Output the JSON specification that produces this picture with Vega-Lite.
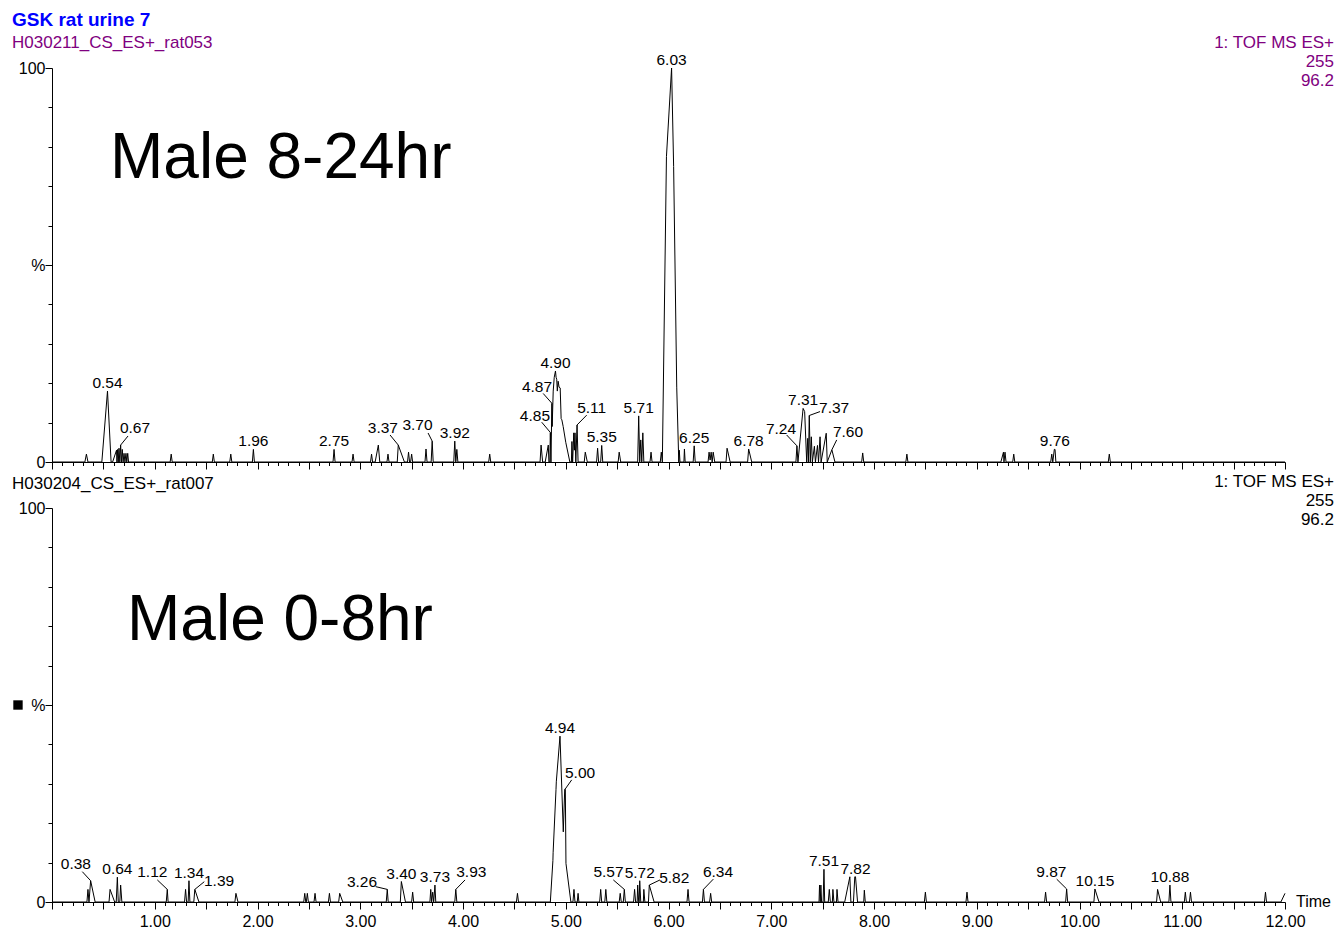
{
  "$schema": "https://vega.github.io/schema/vega-lite/v6.json",
  "background": "white",
  "padding": {"left": 12, "top": 11, "right": 4, "bottom": 4},
  "spacing": 46,
  "bounds": "flush",
  "config": {
    "view": {"stroke": null},
    "font": "Liberation Sans",
    "axis": {"grid": false, "domainColor": "black", "tickColor": "black", "labelColor": "black", "labelFont": "Liberation Sans", "labelFontSize": 16, "domainWidth": 1, "tickWidth": 1, "labelFlush": false, "labelOverlap": false, "labelBound": false},
    "text": {"font": "Liberation Sans", "color": "black"}
  },
  "datasets": {
    "trace_top": [
      {"time":0,"int":0},{"time":0.32,"int":0},{"time":0.335,"int":2},{"time":0.35,"int":0},{"time":0.485,"int":0},{"time":0.54,"int":18},{"time":0.575,"int":0},{"time":0.59,"int":0},{"time":0.628,"int":3},{"time":0.632,"int":0},{"time":0.639,"int":3.2},{"time":0.645,"int":0},{"time":0.652,"int":3.5},{"time":0.66,"int":0},{"time":0.668,"int":4.3},{"time":0.676,"int":0},{"time":0.684,"int":3.2},{"time":0.692,"int":0},{"time":0.701,"int":2.2},{"time":0.71,"int":0},{"time":0.72,"int":2.2},{"time":0.728,"int":0},{"time":0.737,"int":2.2},{"time":0.745,"int":0},
      {"time":1.15,"int":0},{"time":1.16,"int":2},{"time":1.17,"int":0},{"time":1.56,"int":0},{"time":1.57,"int":2},{"time":1.58,"int":0},{"time":1.73,"int":0},{"time":1.74,"int":2},{"time":1.75,"int":0},{"time":1.95,"int":0},{"time":1.96,"int":3.2},{"time":1.97,"int":0},{"time":2.735,"int":0},{"time":2.745,"int":3.2},{"time":2.755,"int":0},{"time":2.92,"int":0},{"time":2.93,"int":2},{"time":2.94,"int":0},{"time":3.1,"int":0},{"time":3.11,"int":2},{"time":3.12,"int":0},{"time":3.145,"int":0},{"time":3.176,"int":4.3},{"time":3.19,"int":0},{"time":3.26,"int":0},{"time":3.27,"int":2},{"time":3.28,"int":0},{"time":3.36,"int":0},{"time":3.37,"int":4.3},{"time":3.43,"int":0},{"time":3.46,"int":0},{"time":3.47,"int":2.5},{"time":3.48,"int":0},{"time":3.49,"int":0},{"time":3.5,"int":2},{"time":3.51,"int":0},{"time":3.63,"int":0},{"time":3.64,"int":3.3},{"time":3.65,"int":0},{"time":3.69,"int":0},{"time":3.7,"int":5.3},{"time":3.71,"int":0},{"time":3.91,"int":0},{"time":3.92,"int":5.3},{"time":3.93,"int":0},{"time":3.94,"int":3.2},{"time":3.95,"int":0},
      {"time":4.25,"int":0},{"time":4.26,"int":2},{"time":4.27,"int":0},{"time":4.75,"int":0},{"time":4.76,"int":4.3},{"time":4.775,"int":0},{"time":4.8,"int":0},{"time":4.83,"int":4.3},{"time":4.836,"int":0},{"time":4.845,"int":0},{"time":4.85,"int":7.5},{"time":4.856,"int":0},{"time":4.865,"int":14.9},{"time":4.868,"int":9},{"time":4.878,"int":18},{"time":4.888,"int":21.5},{"time":4.9,"int":23.1},{"time":4.906,"int":21.5},{"time":4.912,"int":21},{"time":4.918,"int":18},{"time":4.926,"int":20.5},{"time":4.935,"int":19},{"time":4.946,"int":18.8},{"time":4.955,"int":11},{"time":4.962,"int":10.7},{"time":4.975,"int":9},{"time":5.0,"int":5},{"time":5.04,"int":0},{"time":5.055,"int":0},{"time":5.06,"int":5.2},{"time":5.067,"int":0},{"time":5.078,"int":7.4},{"time":5.084,"int":3},{"time":5.09,"int":7.4},{"time":5.098,"int":0},{"time":5.11,"int":9.4},{"time":5.12,"int":0},{"time":5.18,"int":0},{"time":5.19,"int":2.5},{"time":5.21,"int":0},{"time":5.3,"int":0},{"time":5.31,"int":3.5},{"time":5.32,"int":0},{"time":5.34,"int":0},{"time":5.35,"int":4.2},{"time":5.36,"int":0},{"time":5.51,"int":0},{"time":5.52,"int":2.5},{"time":5.535,"int":0},{"time":5.7,"int":0},{"time":5.71,"int":11.7},{"time":5.72,"int":0},{"time":5.73,"int":5.6},{"time":5.74,"int":0},{"time":5.75,"int":7.4},{"time":5.76,"int":0},{"time":5.82,"int":0},{"time":5.83,"int":2.5},{"time":5.84,"int":0},{"time":5.92,"int":0},{"time":5.93,"int":2.5},{"time":5.94,"int":0},{"time":5.98,"int":77.5},{"time":6.03,"int":100},{"time":6.05,"int":75},{"time":6.08,"int":19},{"time":6.1,"int":0},{"time":6.105,"int":3},{"time":6.112,"int":0},{"time":6.15,"int":0},{"time":6.155,"int":3.3},{"time":6.162,"int":0},{"time":6.24,"int":0},{"time":6.25,"int":4.1},{"time":6.26,"int":0},{"time":6.385,"int":0},{"time":6.395,"int":2.5},{"time":6.405,"int":0.5},{"time":6.415,"int":2.5},{"time":6.425,"int":0},{"time":6.435,"int":2.5},{"time":6.45,"int":0},{"time":6.56,"int":0},{"time":6.57,"int":3.5},{"time":6.6,"int":0},{"time":6.77,"int":0},{"time":6.78,"int":3.3},{"time":6.81,"int":0},
      {"time":7.24,"int":0},{"time":7.25,"int":4.1},{"time":7.26,"int":0},{"time":7.31,"int":13.6},{"time":7.325,"int":12.8},{"time":7.345,"int":0},{"time":7.355,"int":6},{"time":7.362,"int":0},{"time":7.37,"int":11.8},{"time":7.38,"int":0},{"time":7.39,"int":6.4},{"time":7.4,"int":0},{"time":7.42,"int":4},{"time":7.43,"int":0},{"time":7.45,"int":4.2},{"time":7.46,"int":0},{"time":7.475,"int":6.4},{"time":7.485,"int":0},{"time":7.535,"int":7.3},{"time":7.545,"int":0},{"time":7.59,"int":3.1},{"time":7.62,"int":0},{"time":7.88,"int":0},{"time":7.89,"int":2.3},{"time":7.9,"int":0},{"time":8.31,"int":0},{"time":8.32,"int":2},{"time":8.33,"int":0},{"time":9.235,"int":0},{"time":9.26,"int":2.5},{"time":9.265,"int":0},{"time":9.275,"int":2.5},{"time":9.285,"int":0},{"time":9.35,"int":0},{"time":9.36,"int":2},{"time":9.37,"int":0},{"time":9.72,"int":0},{"time":9.73,"int":2},{"time":9.74,"int":0},{"time":9.755,"int":3.2},{"time":9.762,"int":3.2},{"time":9.77,"int":0},{"time":10.28,"int":0},{"time":10.29,"int":2},{"time":10.3,"int":0},{"time":12,"int":0}
    ],
    "trace_bottom": [
      {"time":0,"int":0},{"time":0.34,"int":0},{"time":0.35,"int":3.2},{"time":0.36,"int":0},{"time":0.376,"int":5.4},{"time":0.42,"int":0},{"time":0.555,"int":0},{"time":0.565,"int":3.2},{"time":0.61,"int":0},{"time":0.625,"int":0},{"time":0.636,"int":6.3},{"time":0.645,"int":0},{"time":0.66,"int":0},{"time":0.668,"int":4.3},{"time":0.68,"int":0},{"time":1.112,"int":0},{"time":1.122,"int":3.2},{"time":1.13,"int":0},{"time":1.29,"int":0},{"time":1.3,"int":3.2},{"time":1.31,"int":0},{"time":1.325,"int":0},{"time":1.333,"int":5.4},{"time":1.342,"int":0},{"time":1.38,"int":0},{"time":1.39,"int":3.2},{"time":1.43,"int":0},{"time":1.78,"int":0},{"time":1.79,"int":2.2},{"time":1.81,"int":0},{"time":2.45,"int":0},{"time":2.46,"int":2.2},{"time":2.47,"int":0},{"time":2.475,"int":0},{"time":2.485,"int":2.2},{"time":2.495,"int":0},{"time":2.55,"int":0},{"time":2.56,"int":2.2},{"time":2.57,"int":0},{"time":2.69,"int":0},{"time":2.7,"int":2.2},{"time":2.71,"int":0},{"time":2.79,"int":0},{"time":2.8,"int":2.2},{"time":2.83,"int":0},{"time":3.253,"int":0},{"time":3.263,"int":3.2},{"time":3.272,"int":0},{"time":3.39,"int":0},{"time":3.4,"int":5.2},{"time":3.44,"int":0},{"time":3.5,"int":0},{"time":3.51,"int":2.5},{"time":3.52,"int":0},{"time":3.678,"int":0},{"time":3.686,"int":3.2},{"time":3.695,"int":0},{"time":3.705,"int":2.5},{"time":3.715,"int":0},{"time":3.727,"int":4.3},{"time":3.735,"int":0},{"time":3.92,"int":0},{"time":3.93,"int":3.2},{"time":3.94,"int":0},
      {"time":4.52,"int":0},{"time":4.53,"int":2.2},{"time":4.54,"int":0},{"time":4.85,"int":0},{"time":4.875,"int":10.5},{"time":4.877,"int":12.5},{"time":4.905,"int":28.5},{"time":4.908,"int":30.5},{"time":4.944,"int":42.1},{"time":4.976,"int":17.8},{"time":4.99,"int":28.6},{"time":4.996,"int":28.6},{"time":5.002,"int":9.8},{"time":5.05,"int":0},{"time":5.07,"int":0},{"time":5.08,"int":3.2},{"time":5.09,"int":0},{"time":5.112,"int":0},{"time":5.12,"int":2.2},{"time":5.128,"int":0},{"time":5.33,"int":0},{"time":5.34,"int":3.2},{"time":5.35,"int":0},{"time":5.38,"int":0},{"time":5.39,"int":3.2},{"time":5.4,"int":0},{"time":5.52,"int":0},{"time":5.53,"int":2.2},{"time":5.54,"int":0},{"time":5.56,"int":0},{"time":5.57,"int":3.2},{"time":5.58,"int":0},{"time":5.66,"int":0},{"time":5.67,"int":3.2},{"time":5.68,"int":0},{"time":5.695,"int":0},{"time":5.7,"int":4.3},{"time":5.71,"int":0},{"time":5.715,"int":0},{"time":5.72,"int":5.4},{"time":5.73,"int":0},{"time":5.755,"int":0},{"time":5.76,"int":3.2},{"time":5.77,"int":0},{"time":5.805,"int":0},{"time":5.813,"int":4.3},{"time":5.86,"int":0},{"time":6.18,"int":0},{"time":6.19,"int":3.2},{"time":6.2,"int":0},{"time":6.33,"int":0},{"time":6.34,"int":3.2},{"time":6.35,"int":0},{"time":6.4,"int":0},{"time":6.41,"int":2.2},{"time":6.42,"int":0},
      {"time":7.465,"int":0},{"time":7.47,"int":4.3},{"time":7.477,"int":0},{"time":7.483,"int":4.3},{"time":7.49,"int":0},{"time":7.505,"int":0},{"time":7.513,"int":8.3},{"time":7.52,"int":0},{"time":7.555,"int":0},{"time":7.565,"int":3.2},{"time":7.575,"int":0},{"time":7.595,"int":0},{"time":7.6,"int":3.2},{"time":7.61,"int":0},{"time":7.635,"int":0},{"time":7.64,"int":3.2},{"time":7.65,"int":0},{"time":7.715,"int":0},{"time":7.765,"int":6.4},{"time":7.775,"int":0},{"time":7.8,"int":0},{"time":7.813,"int":6.4},{"time":7.82,"int":6.4},{"time":7.84,"int":0},{"time":7.9,"int":0},{"time":7.906,"int":3},{"time":7.915,"int":0},{"time":8.49,"int":0},{"time":8.5,"int":2.5},{"time":8.51,"int":0},{"time":8.895,"int":0},{"time":8.905,"int":2.5},{"time":8.915,"int":0},{"time":9.66,"int":0},{"time":9.67,"int":2.5},{"time":9.68,"int":0},{"time":9.865,"int":0},{"time":9.875,"int":3.3},{"time":9.885,"int":0},{"time":10.14,"int":0},{"time":10.15,"int":3.3},{"time":10.19,"int":0},{"time":10.75,"int":0},{"time":10.76,"int":3.2},{"time":10.79,"int":0},{"time":10.87,"int":0},{"time":10.88,"int":4.3},{"time":10.89,"int":0},{"time":11.02,"int":0},{"time":11.03,"int":2.5},{"time":11.04,"int":0},{"time":11.07,"int":0},{"time":11.08,"int":2.5},{"time":11.09,"int":0},{"time":11.8,"int":0},{"time":11.81,"int":2.5},{"time":11.82,"int":0},{"time":11.96,"int":0},{"time":12,"int":2.2}
    ],
    "apex_top": [
      {"label":"0.54","time":0.54,"int":18},{"label":"1.96","time":1.96,"int":3.2},{"label":"2.75","time":2.745,"int":3.2},{"label":"3.92","time":3.92,"int":5.3},{"label":"4.90","time":4.9,"int":23.1},{"label":"5.35","time":5.35,"int":4.2},{"label":"5.71","time":5.71,"int":11.7},{"label":"6.03","time":6.03,"int":100},{"label":"6.25","time":6.25,"int":4.1},{"label":"6.78","time":6.78,"int":3.3},{"label":"7.31","time":7.31,"int":13.6},{"label":"9.76","time":9.76,"int":3.2}
    ],
    "leader_top": [
      {"label":"0.67","time":0.668,"int":4.3,"time2":0.74,"int2":6.6,"labelTime":0.808,"labelInt":7.36},
      {"label":"3.37","time":3.37,"int":4.3,"time2":3.29,"int2":6.85,"labelTime":3.22,"labelInt":7.3},
      {"label":"3.70","time":3.7,"int":5.3,"time2":3.66,"int2":7.36,"labelTime":3.557,"labelInt":8.1},
      {"label":"4.85","time":4.85,"int":7.5,"time2":4.766,"int2":10.1,"labelTime":4.7,"labelInt":10.5},
      {"label":"4.87","time":4.865,"int":14.9,"time2":4.78,"int2":17.4,"labelTime":4.72,"labelInt":17.8},
      {"label":"5.11","time":5.11,"int":9.4,"time2":5.204,"int2":11.9,"labelTime":5.252,"labelInt":12.5},
      {"label":"7.24","time":7.25,"int":4.1,"time2":7.15,"int2":6.85,"labelTime":7.095,"labelInt":7.1},
      {"label":"7.37","time":7.37,"int":11.8,"time2":7.475,"int2":12.8,"labelTime":7.612,"labelInt":12.5},
      {"label":"7.60","time":7.59,"int":3.1,"time2":7.637,"int2":5.6,"labelTime":7.747,"labelInt":6.3}
    ],
    "apex_bottom": [
      {"label":"0.64","time":0.636,"int":6.3},{"label":"1.34","time":1.333,"int":5.4},{"label":"3.40","time":3.4,"int":5.2},{"label":"3.73","time":3.727,"int":4.3},{"label":"4.94","time":4.944,"int":42.1},{"label":"5.72","time":5.72,"int":5.4},{"label":"7.51","time":7.513,"int":8.3},{"label":"7.82","time":7.82,"int":6.4},{"label":"10.15","time":10.15,"int":3.3},{"label":"10.88","time":10.88,"int":4.3}
    ],
    "leader_bottom": [
      {"label":"0.38","time":0.376,"int":5.4,"time2":0.295,"int2":7.7,"labelTime":0.232,"labelInt":8.3},
      {"label":"1.12","time":1.122,"int":3.2,"time2":1.025,"int2":5.6,"labelTime":0.976,"labelInt":6.3},
      {"label":"1.39","time":1.39,"int":3.2,"time2":1.482,"int2":5.15,"labelTime":1.626,"labelInt":4.06},
      {"label":"3.26","time":3.263,"int":3.2,"time2":3.15,"int2":3.9,"labelTime":3.017,"labelInt":3.9},
      {"label":"3.93","time":3.93,"int":3.2,"time2":4.02,"int2":5.6,"labelTime":4.081,"labelInt":6.3},
      {"label":"5.00","time":4.993,"int":28.6,"time2":5.058,"int2":31,"labelTime":5.139,"labelInt":31.4},
      {"label":"5.57","time":5.57,"int":3.2,"time2":5.463,"int2":5.6,"labelTime":5.416,"labelInt":6.4},
      {"label":"5.82","time":5.813,"int":4.3,"time2":5.917,"int2":5.6,"labelTime":6.056,"labelInt":4.9},
      {"label":"6.34","time":6.34,"int":3.2,"time2":6.436,"int2":5.8,"labelTime":6.482,"labelInt":6.4},
      {"label":"9.87","time":9.875,"int":3.3,"time2":9.778,"int2":5.8,"labelTime":9.726,"labelInt":6.3}
    ]
  },
  "vconcat": [
    {
      "width": 1233,
      "height": 394,
      "resolve": {"axis": {"x": "independent", "y": "independent"}},
      "layer": [
        {
          "data": {"name": "trace_top"},
          "mark": {"type": "line", "color": "black", "strokeWidth": 1},
          "encoding": {
            "x": {"field": "time", "type": "quantitative", "scale": {"domain": [0, 12], "nice": false, "zero": false},
              "axis": {"title": null, "orient": "bottom", "labels": false, "tickSize": 7,
                "values": [0,0.5,1,1.5,2,2.5,3,3.5,4,4.5,5,5.5,6,6.5,7,7.5,8,8.5,9,9.5,10,10.5,11,11.5,12]}},
            "y": {"field": "int", "type": "quantitative", "scale": {"domain": [0, 100], "nice": false},
              "axis": {"title": null, "orient": "left", "values": [0, 50, 100], "tickSize": 7, "labelPadding": 0,
                "labelExpr": "datum.value == 100 ? '100' : datum.value == 50 ? '%' : '0'"}}
          }
        },
        {
          "data": {"name": "leader_top"},
          "mark": {"type": "rule", "color": "black", "strokeWidth": 1},
          "encoding": {
            "x": {"field": "time", "type": "quantitative",
              "axis": {"title": null, "orient": "bottom", "labels": false, "domain": false, "tickSize": 3.5,
                "values": [0.1,0.2,0.3,0.4,0.6,0.7,0.8,0.9,1.1,1.2,1.3,1.4,1.6,1.7,1.8,1.9,2.1,2.2,2.3,2.4,2.6,2.7,2.8,2.9,3.1,3.2,3.3,3.4,3.6,3.7,3.8,3.9,4.1,4.2,4.3,4.4,4.6,4.7,4.8,4.9,5.1,5.2,5.3,5.4,5.6,5.7,5.8,5.9,6.1,6.2,6.3,6.4,6.6,6.7,6.8,6.9,7.1,7.2,7.3,7.4,7.6,7.7,7.8,7.9,8.1,8.2,8.3,8.4,8.6,8.7,8.8,8.9,9.1,9.2,9.3,9.4,9.6,9.7,9.8,9.9,10.1,10.2,10.3,10.4,10.6,10.7,10.8,10.9,11.1,11.2,11.3,11.4,11.6,11.7,11.8,11.9]}},
            "y": {"field": "int", "type": "quantitative",
              "axis": {"title": null, "orient": "left", "labels": false, "domain": false, "tickSize": 4,
                "values": [10,20,30,40,60,70,80,90]}},
            "x2": {"field": "time2"}, "y2": {"field": "int2"}
          }
        },
        {
          "data": {"name": "leader_top"},
          "mark": {"type": "text", "fontSize": 15.5, "align": "center", "baseline": "alphabetic"},
          "encoding": {"x": {"field": "labelTime", "type": "quantitative", "axis": null}, "y": {"field": "labelInt", "type": "quantitative", "axis": null}, "text": {"field": "label", "type": "nominal"}}
        },
        {
          "data": {"name": "apex_top"},
          "mark": {"type": "text", "fontSize": 15.5, "align": "center", "baseline": "alphabetic", "dy": -3},
          "encoding": {"x": {"field": "time", "type": "quantitative", "axis": null}, "y": {"field": "int", "type": "quantitative", "axis": null}, "text": {"field": "label", "type": "nominal"}}
        },
        {
          "data": {"values": [{"note": "GSK rat urine 7"}]},
          "mark": {"type": "text", "align": "left", "baseline": "alphabetic", "dx": -40, "dy": -42, "fontSize": 19, "fontWeight": "bold", "color": "#0000ff"},
          "encoding": {"x": {"datum": 0, "type": "quantitative", "axis": null}, "y": {"datum": 100, "type": "quantitative", "axis": null}, "text": {"field": "note", "type": "nominal"}}
        },
        {
          "data": {"values": [{"note": "H030211_CS_ES+_rat053"}]},
          "mark": {"type": "text", "align": "left", "baseline": "alphabetic", "dx": -40, "dy": -20, "fontSize": 17, "color": "#800080"},
          "encoding": {"x": {"datum": 0, "type": "quantitative", "axis": null}, "y": {"datum": 100, "type": "quantitative", "axis": null}, "text": {"field": "note", "type": "nominal"}}
        },
        {
          "data": {"values": [{}]},
          "mark": {"type": "text", "align": "right", "baseline": "alphabetic", "dx": 49, "dy": -20, "fontSize": 17, "lineHeight": 19, "color": "#800080", "text": ["1: TOF MS ES+", "255", "96.2"]},
          "encoding": {"x": {"datum": 12, "type": "quantitative", "axis": null}, "y": {"datum": 100, "type": "quantitative", "axis": null}}
        },
        {
          "data": {"values": [{"note": "Male 8-24hr"}]},
          "mark": {"type": "text", "align": "left", "baseline": "alphabetic", "fontSize": 64, "color": "black"},
          "encoding": {"x": {"datum": 0.5645, "type": "quantitative", "axis": null}, "y": {"datum": 72.1, "type": "quantitative", "axis": null}, "text": {"field": "note", "type": "nominal"}}
        }
      ]
    },
    {
      "width": 1233,
      "height": 394,
      "resolve": {"axis": {"x": "independent", "y": "independent"}},
      "layer": [
        {
          "data": {"name": "trace_bottom"},
          "mark": {"type": "line", "color": "black", "strokeWidth": 1},
          "encoding": {
            "x": {"field": "time", "type": "quantitative", "scale": {"domain": [0, 12], "nice": false, "zero": false},
              "axis": {"title": null, "orient": "bottom", "tickSize": 7, "labelPadding": 4,
                "labelExpr": "datum.value >= 0.999 && abs(datum.value - round(datum.value)) < 0.001 ? format(datum.value, '.2f') : ''",
                "values": [0,0.5,1,1.5,2,2.5,3,3.5,4,4.5,5,5.5,6,6.5,7,7.5,8,8.5,9,9.5,10,10.5,11,11.5,12]}},
            "y": {"field": "int", "type": "quantitative", "scale": {"domain": [0, 100], "nice": false},
              "axis": {"title": null, "orient": "left", "values": [0, 50, 100], "tickSize": 7, "labelPadding": 0,
                "labelExpr": "datum.value == 100 ? '100' : datum.value == 50 ? '%' : '0'"}}
          }
        },
        {
          "data": {"name": "leader_bottom"},
          "mark": {"type": "rule", "color": "black", "strokeWidth": 1},
          "encoding": {
            "x": {"field": "time", "type": "quantitative",
              "axis": {"title": null, "orient": "bottom", "labels": false, "domain": false, "tickSize": 3.5,
                "values": [0.1,0.2,0.3,0.4,0.6,0.7,0.8,0.9,1.1,1.2,1.3,1.4,1.6,1.7,1.8,1.9,2.1,2.2,2.3,2.4,2.6,2.7,2.8,2.9,3.1,3.2,3.3,3.4,3.6,3.7,3.8,3.9,4.1,4.2,4.3,4.4,4.6,4.7,4.8,4.9,5.1,5.2,5.3,5.4,5.6,5.7,5.8,5.9,6.1,6.2,6.3,6.4,6.6,6.7,6.8,6.9,7.1,7.2,7.3,7.4,7.6,7.7,7.8,7.9,8.1,8.2,8.3,8.4,8.6,8.7,8.8,8.9,9.1,9.2,9.3,9.4,9.6,9.7,9.8,9.9,10.1,10.2,10.3,10.4,10.6,10.7,10.8,10.9,11.1,11.2,11.3,11.4,11.6,11.7,11.8,11.9]}},
            "y": {"field": "int", "type": "quantitative",
              "axis": {"title": null, "orient": "left", "labels": false, "domain": false, "tickSize": 4,
                "values": [10,20,30,40,60,70,80,90]}},
            "x2": {"field": "time2"}, "y2": {"field": "int2"}
          }
        },
        {
          "data": {"name": "leader_bottom"},
          "mark": {"type": "text", "fontSize": 15.5, "align": "center", "baseline": "alphabetic"},
          "encoding": {"x": {"field": "labelTime", "type": "quantitative", "axis": null}, "y": {"field": "labelInt", "type": "quantitative", "axis": null}, "text": {"field": "label", "type": "nominal"}}
        },
        {
          "data": {"name": "apex_bottom"},
          "mark": {"type": "text", "fontSize": 15.5, "align": "center", "baseline": "alphabetic", "dy": -3},
          "encoding": {"x": {"field": "time", "type": "quantitative", "axis": null}, "y": {"field": "int", "type": "quantitative", "axis": null}, "text": {"field": "label", "type": "nominal"}}
        },
        {
          "data": {"values": [{"note": "H030204_CS_ES+_rat007"}]},
          "mark": {"type": "text", "align": "left", "baseline": "alphabetic", "dx": -40, "dy": -19, "fontSize": 17, "color": "black"},
          "encoding": {"x": {"datum": 0, "type": "quantitative", "axis": null}, "y": {"datum": 100, "type": "quantitative", "axis": null}, "text": {"field": "note", "type": "nominal"}}
        },
        {
          "data": {"values": [{}]},
          "mark": {"type": "text", "align": "right", "baseline": "alphabetic", "dx": 49, "dy": -21, "fontSize": 17, "lineHeight": 19, "color": "black", "text": ["1: TOF MS ES+", "255", "96.2"]},
          "encoding": {"x": {"datum": 12, "type": "quantitative", "axis": null}, "y": {"datum": 100, "type": "quantitative", "axis": null}}
        },
        {
          "data": {"values": [{"note": "Male 0-8hr"}]},
          "mark": {"type": "text", "align": "left", "baseline": "alphabetic", "fontSize": 64, "color": "black"},
          "encoding": {"x": {"datum": 0.73, "type": "quantitative", "axis": null}, "y": {"datum": 66.5, "type": "quantitative", "axis": null}, "text": {"field": "note", "type": "nominal"}}
        },
        {
          "data": {"values": [{"note": "Time"}]},
          "mark": {"type": "text", "align": "left", "baseline": "alphabetic", "dx": 11, "dy": 5, "fontSize": 16, "color": "black"},
          "encoding": {"x": {"datum": 12, "type": "quantitative", "axis": null}, "y": {"datum": 0, "type": "quantitative", "axis": null}, "text": {"field": "note", "type": "nominal"}}
        },
        {
          "data": {"values": [{}]},
          "mark": {"type": "point", "shape": "square", "filled": true, "size": 88, "color": "black", "opacity": 1},
          "encoding": {"x": {"datum": -0.331, "type": "quantitative", "axis": null}, "y": {"datum": 50, "type": "quantitative", "axis": null}}
        }
      ]
    }
  ]
}
